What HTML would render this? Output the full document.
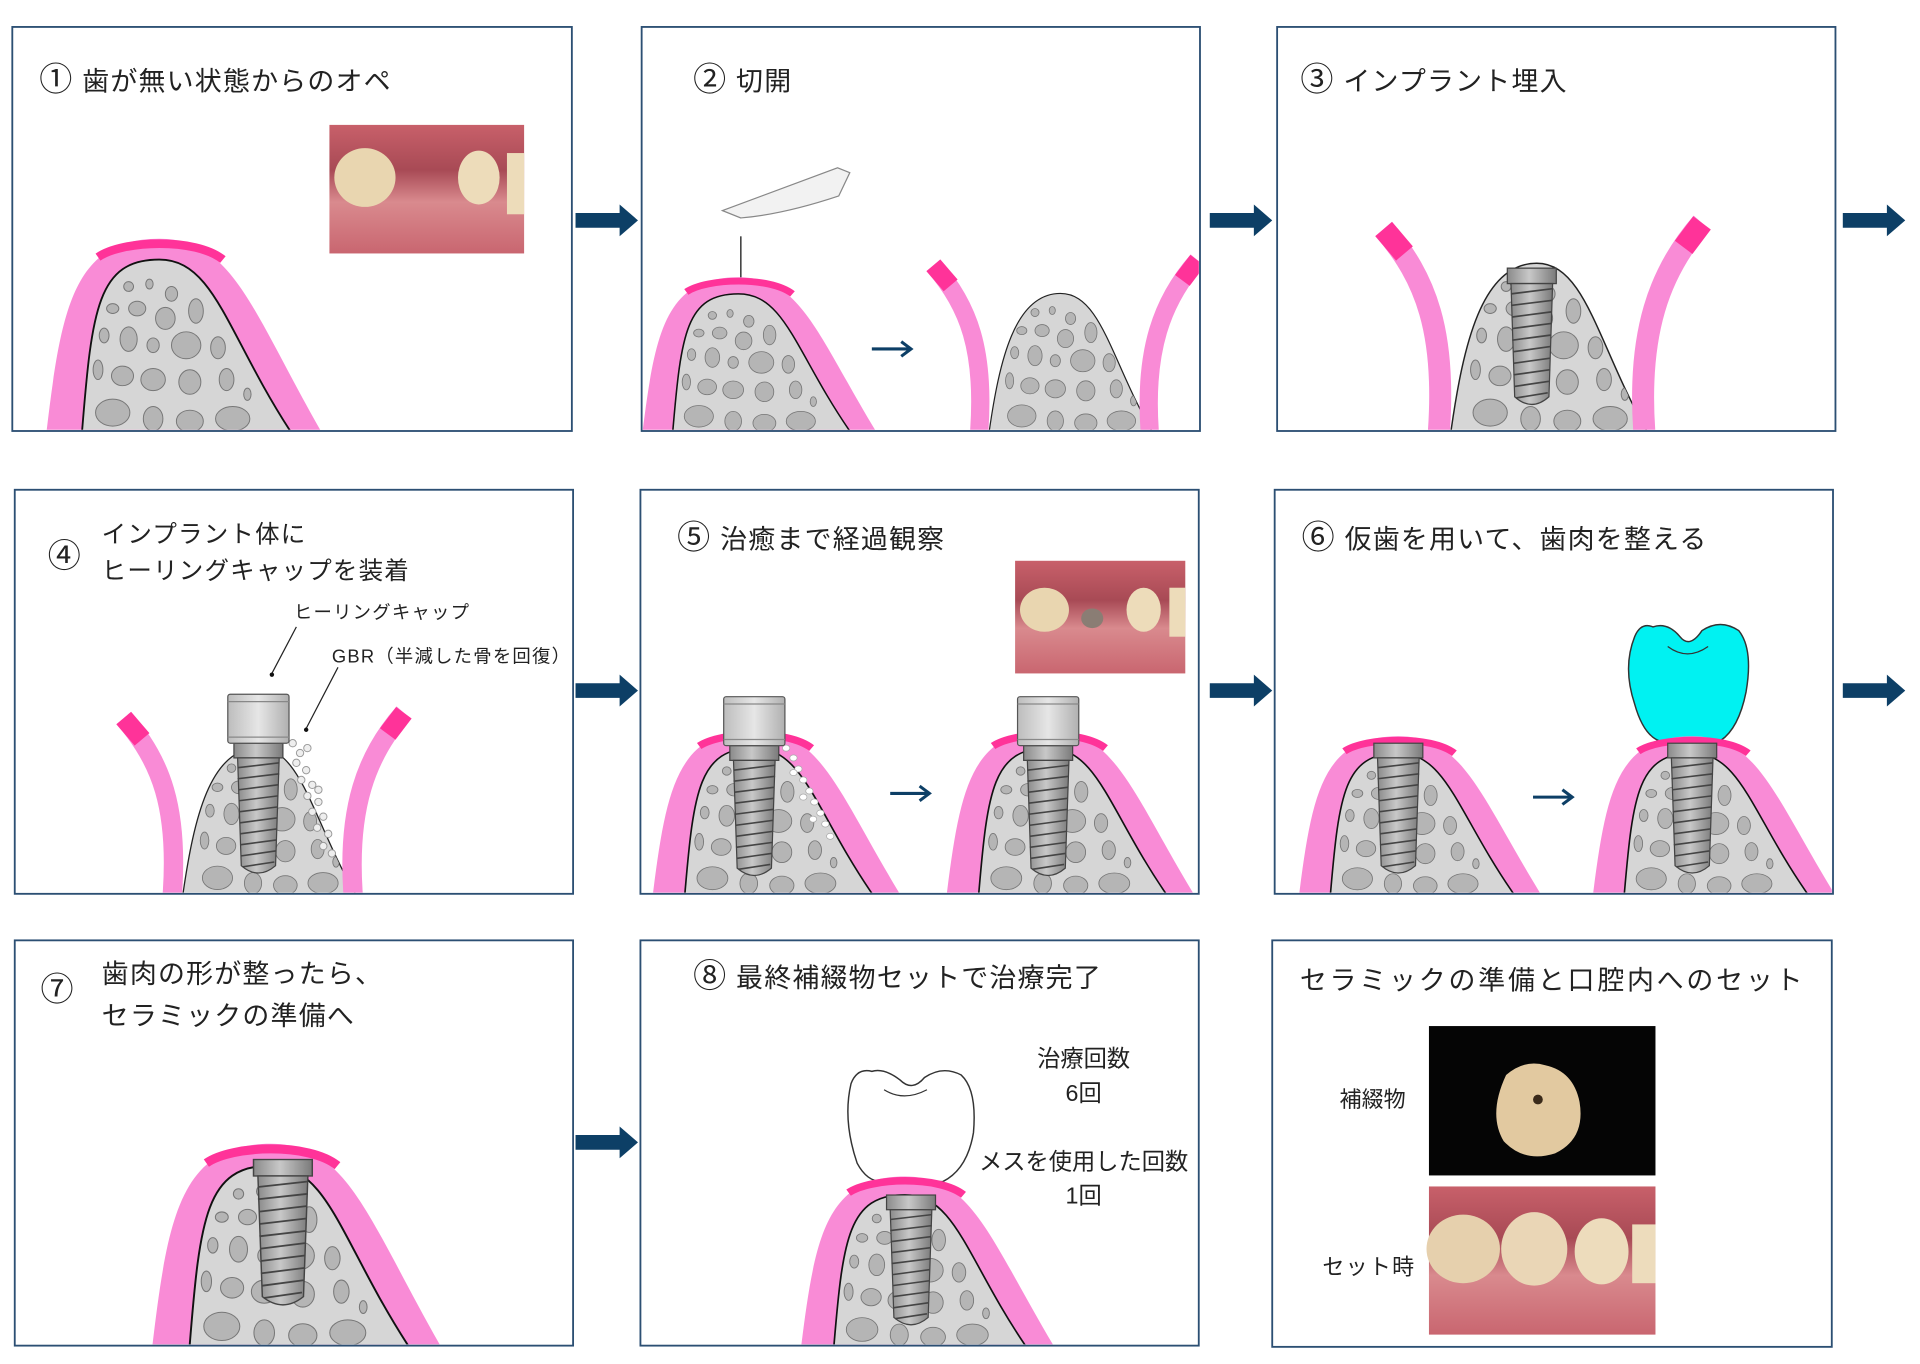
<!DOCTYPE html>
<html><head><meta charset="utf-8"><style>
html,body{margin:0;padding:0;background:#fff;}
svg{display:block;}
text{font-family:"Liberation Sans","Noto Sans CJK JP",sans-serif;fill:#222;}
.t{letter-spacing:1px;}
.c{font-size:27px;}
</style></head><body>
<svg width="1920" height="1364" viewBox="0 0 1568 1114" xmlns="http://www.w3.org/2000/svg">
<defs>
<linearGradient id="metal" x1="0" x2="1" y1="0" y2="0">
<stop offset="0" stop-color="#8a8a8a"/><stop offset="0.45" stop-color="#c8c8c8"/><stop offset="1" stop-color="#7a7a7a"/></linearGradient>
<linearGradient id="capg" x1="0" x2="1">
<stop offset="0" stop-color="#bdbdbd"/><stop offset="0.5" stop-color="#e6e6e6"/><stop offset="1" stop-color="#b0b0b0"/></linearGradient>
<clipPath id="boneClip"><path d="M-63,0 C-55,-100 -50,-140 0,-140 C45,-140 55,-80 107,0 Z"/></clipPath>
<clipPath id="boneClipO"><path d="M-70,0 C-60,-70 -45,-137 0,-137 C40,-137 50,-70 90,0 Z"/></clipPath>
<g id="spots" fill="#b5b5b5" stroke="#777" stroke-width="0.8">
<ellipse cx="-25" cy="-118" rx="4" ry="4"/><ellipse cx="-8" cy="-120" rx="3" ry="4"/><ellipse cx="10" cy="-112" rx="5" ry="6"/>
<ellipse cx="-38" cy="-100" rx="5" ry="4"/><ellipse cx="-18" cy="-100" rx="7" ry="6"/><ellipse cx="5" cy="-92" rx="8" ry="9"/><ellipse cx="30" cy="-98" rx="6" ry="10"/>
<ellipse cx="-45" cy="-78" rx="4" ry="6"/><ellipse cx="-25" cy="-75" rx="7" ry="10"/><ellipse cx="-5" cy="-70" rx="5" ry="6"/><ellipse cx="22" cy="-70" rx="12" ry="11"/><ellipse cx="48" cy="-68" rx="6" ry="9"/>
<ellipse cx="-50" cy="-50" rx="4" ry="8"/><ellipse cx="-30" cy="-45" rx="9" ry="8"/><ellipse cx="-5" cy="-42" rx="10" ry="9"/><ellipse cx="25" cy="-40" rx="9" ry="10"/><ellipse cx="55" cy="-42" rx="6" ry="9"/><ellipse cx="72" cy="-30" rx="3" ry="5"/>
<ellipse cx="-38" cy="-15" rx="14" ry="11"/><ellipse cx="-5" cy="-10" rx="8" ry="10"/><ellipse cx="25" cy="-8" rx="11" ry="9"/><ellipse cx="60" cy="-10" rx="14" ry="10"/>
</g>
<g id="ridge">
<path d="M-92,0 C-80,-100 -70,-157 0,-157 C60,-157 75,-100 132,0 Z" fill="#f98bd6"/>
<path d="M-50,-142 C-30,-156 30,-158 52,-140" fill="none" stroke="#ff3399" stroke-width="7"/>
<path d="M-63,0 C-55,-100 -50,-140 0,-140 C45,-140 55,-80 107,0 Z" fill="#d6d6d6" stroke="#111" stroke-width="1.5"/>
<g clip-path="url(#boneClip)"><use href="#spots"/></g>
</g>
<g id="oridge">
<path d="M-70,0 C-60,-70 -45,-137 0,-137 C40,-137 50,-70 90,0 Z" fill="#d6d6d6" stroke="#222" stroke-width="1.2"/>
<g clip-path="url(#boneClipO)"><use href="#spots"/></g>
<path d="M-80,2 C-74,-80 -90,-125 -125,-165" fill="none" stroke="#f98bd6" stroke-width="18"/>
<path d="M-108,-145 L-125,-165" fill="none" stroke="#ff3399" stroke-width="18"/>
<path d="M88,2 C82,-80 100,-130 135,-170" fill="none" stroke="#f98bd6" stroke-width="18"/>
<path d="M120,-150 L135,-170" fill="none" stroke="#ff3399" stroke-width="18"/>
</g>
<g id="imp">
<rect x="-20" y="0" width="40" height="12" fill="url(#metal)" stroke="#444" stroke-width="1"/>
<path d="M-17,12 L17,12 L14,100 Q0,112 -14,100 Z" fill="url(#metal)" stroke="#444" stroke-width="1"/>
<g stroke="#444" stroke-width="1.3">
<line x1="-17" y1="20" x2="17" y2="16"/><line x1="-17" y1="29" x2="17" y2="25"/><line x1="-16" y1="38" x2="16" y2="34"/><line x1="-16" y1="47" x2="16" y2="43"/><line x1="-16" y1="56" x2="16" y2="52"/><line x1="-15" y1="65" x2="15" y2="61"/><line x1="-15" y1="74" x2="15" y2="70"/><line x1="-15" y1="83" x2="15" y2="79"/><line x1="-14" y1="92" x2="14" y2="88"/><line x1="-13" y1="101" x2="13" y2="97"/>
</g>
</g>
<g id="cap">
<rect x="-25" y="-40" width="50" height="40" rx="2" fill="url(#capg)" stroke="#555" stroke-width="1"/>
<line x1="-25" y1="-34" x2="25" y2="-34" stroke="#888"/>
<path d="M-25,-5 L25,-5" stroke="#888"/>
</g>
<g id="bigarrow"><path d="M0,-6 L36,-6 L36,-13 L51,0 L36,13 L36,6 L0,6 Z" fill="#0d3f66"/></g>
<g id="smallarrow"><line x1="0" y1="0" x2="30" y2="0" stroke="#0d3f66" stroke-width="2.5"/><path d="M24,-6 L32,0 L24,6" fill="none" stroke="#0d3f66" stroke-width="2.5"/></g>
<linearGradient id="mouth" x1="0" y1="0" x2="0" y2="1"><stop offset="0" stop-color="#c8606a"/><stop offset="0.35" stop-color="#a84a55"/><stop offset="0.6" stop-color="#d98a8e"/><stop offset="1" stop-color="#c96670"/></linearGradient>
</defs>

<g fill="none" stroke="#2c4f73" stroke-width="1.5">
<rect x="10" y="22" width="457" height="330"/><rect x="524" y="22" width="456" height="330"/><rect x="1043" y="22" width="456" height="330"/>
<rect x="12" y="400" width="456" height="330"/><rect x="523" y="400" width="456" height="330"/><rect x="1041" y="400" width="456" height="330"/>
<rect x="12" y="768" width="456" height="331"/><rect x="523" y="768" width="456" height="331"/><rect x="1039" y="768" width="457" height="332"/>
</g>
<use href="#bigarrow" x="470" y="180"/><use href="#bigarrow" x="988" y="180"/><use href="#bigarrow" x="1505" y="180"/>
<use href="#bigarrow" x="470" y="564"/><use href="#bigarrow" x="988" y="564"/><use href="#bigarrow" x="1505" y="564"/>
<use href="#bigarrow" x="470" y="933"/>

<!-- Panel 1 -->
<text x="32" y="74" font-size="22" class="t"><tspan class="c">①</tspan> 歯が無い状態からのオペ</text>
<rect x="269" y="102" width="159" height="105" fill="url(#mouth)"/>
<ellipse cx="298" cy="145" rx="25" ry="24" fill="#e9d6b0"/><ellipse cx="391" cy="145" rx="17" ry="22" fill="#eddcba"/><rect x="414" y="125" width="14" height="50" fill="#eddcba"/>
<svg x="11" y="23" width="455" height="328" overflow="hidden"><use href="#ridge" x="119" y="329"/></svg>

<!-- Panel 2 -->
<text x="566" y="74" font-size="22" class="t"><tspan class="c">②</tspan>  切開</text>
<path d="M590,172 L684,137 L694,141 L685,160 Q640,175 605,178 Z" fill="#f2f2f2" stroke="#888" stroke-width="1"/>
<line x1="605" y1="193" x2="605" y2="238" stroke="#333" stroke-width="1.2"/>
<svg x="525" y="23" width="454" height="328" overflow="hidden">
<g transform="translate(78,329) scale(0.85,0.8)"><use href="#ridge"/></g>
<g transform="translate(341,329) scale(0.83,0.82)"><use href="#oridge"/></g>
</svg>
<use href="#smallarrow" x="712" y="285"/>

<!-- Panel 3 -->
<text x="1062" y="74" font-size="22" class="t"><tspan class="c">③</tspan> インプラント埋入</text>
<svg x="1044" y="23" width="454" height="328" overflow="hidden">
<g transform="translate(211,329)"><use href="#oridge"/></g>
<use href="#imp" transform="translate(207,196) scale(1,1.05)"/>
</svg>

<!-- Panel 4 -->
<text x="39" y="463" font-size="27">④</text>
<text x="83" y="443" font-size="20" class="t">インプラント体に</text>
<text x="83" y="473" font-size="20" class="t">ヒーリングキャップを装着</text>
<text x="240" y="505" font-size="15" class="t">ヒーリングキャップ</text>
<text x="271" y="541" font-size="15" class="t">GBR（半減した骨を回復）</text>
<line x1="242" y1="512" x2="222" y2="550" stroke="#222"/><circle cx="222" cy="551" r="1.8" fill="#111"/>
<line x1="276" y1="545" x2="250" y2="595" stroke="#222"/><circle cx="250" cy="596" r="1.8" fill="#111"/>
<svg x="13" y="401" width="454" height="328" overflow="hidden">
<g transform="translate(198,329) scale(0.88,0.87)"><use href="#oridge"/></g>
<g fill="#eee" stroke="#999" stroke-width="0.8">
<circle cx="226" cy="206" r="3"/><circle cx="232" cy="214" r="3"/><circle cx="229" cy="222" r="3"/><circle cx="237" cy="228" r="3"/><circle cx="233" cy="236" r="3"/><circle cx="242" cy="240" r="3"/><circle cx="238" cy="249" r="3"/><circle cx="247" cy="254" r="3"/><circle cx="242" cy="262" r="3"/><circle cx="251" cy="266" r="3"/><circle cx="246" cy="275" r="3"/><circle cx="255" cy="280" r="3"/><circle cx="251" cy="290" r="3"/><circle cx="258" cy="296" r="3"/><circle cx="238" cy="210" r="3"/><circle cx="247" cy="244" r="3"/>
</g>
<use href="#imp" x="198" y="206"/><use href="#cap" x="198" y="206"/>
</svg>

<!-- Panel 5 -->
<text x="553" y="448" font-size="22" class="t"><tspan class="c">⑤</tspan> 治癒まで経過観察</text>
<rect x="829" y="458" width="139" height="92" fill="url(#mouth)"/>
<ellipse cx="853" cy="498" rx="20" ry="18" fill="#e9d6b0"/><ellipse cx="934" cy="498" rx="14" ry="18" fill="#eddcba"/><rect x="955" y="480" width="13" height="40" fill="#eddcba"/>
<ellipse cx="892" cy="505" rx="9" ry="8" fill="#8a7d74"/>
<svg x="524" y="401" width="454" height="328" overflow="hidden">
<g transform="translate(92,329) scale(0.9,0.85)"><use href="#ridge"/></g>
<g fill="#fff" stroke="#aaa" stroke-width="0.6">
<ellipse cx="118" cy="210" rx="3" ry="2.5"/><ellipse cx="124" cy="218" rx="3" ry="2.5"/><ellipse cx="128" cy="227" rx="3" ry="2.5"/><ellipse cx="132" cy="236" rx="3" ry="2.5"/><ellipse cx="137" cy="245" rx="3" ry="2.5"/><ellipse cx="141" cy="254" rx="3" ry="2.5"/><ellipse cx="146" cy="263" rx="3" ry="2.5"/><ellipse cx="150" cy="272" rx="3" ry="2.5"/><ellipse cx="154" cy="282" rx="3" ry="2.5"/><ellipse cx="124" cy="230" rx="3" ry="2.5"/><ellipse cx="132" cy="250" rx="3" ry="2.5"/><ellipse cx="140" cy="268" rx="3" ry="2.5"/>
</g>
<use href="#imp" x="92" y="208"/><use href="#cap" x="92" y="208"/>
<g transform="translate(332,329) scale(0.9,0.85)"><use href="#ridge"/></g>
<use href="#imp" x="332" y="208"/><use href="#cap" x="332" y="208"/>
</svg>
<use href="#smallarrow" x="727" y="648"/>

<!-- Panel 6 -->
<text x="1063" y="448" font-size="22" class="t"><tspan class="c">⑥</tspan> 仮歯を用いて、歯肉を整える</text>
<path d="M1350,512 Q1340,508 1335,520 Q1325,545 1335,575 Q1342,600 1355,605 L1405,605 Q1420,595 1426,565 Q1432,530 1420,515 Q1405,505 1390,515 Q1380,530 1372,520 Q1362,508 1350,512 Z" fill="#00f2f2" stroke="#333" stroke-width="1.2"/>
<path d="M1362,528 Q1378,540 1395,528" fill="none" stroke="#333"/>
<svg x="1042" y="401" width="454" height="328" overflow="hidden">
<g transform="translate(100,329) scale(0.88,0.82)"><use href="#ridge"/></g>
<use href="#imp" x="100" y="206"/>
<g transform="translate(340,329) scale(0.88,0.82)"><use href="#ridge"/></g>
<use href="#imp" x="340" y="206"/>
</svg>
<use href="#smallarrow" x="1252" y="651"/>

<!-- Panel 7 -->
<text x="33" y="817" font-size="27">⑦</text>
<text x="83" y="803" font-size="22" class="t">歯肉の形が整ったら、</text>
<text x="83" y="837" font-size="22" class="t">セラミックの準備へ</text>
<svg x="13" y="769" width="454" height="329" overflow="hidden">
<g transform="translate(208,330) scale(1.05,1.05)"><use href="#ridge"/></g>
<use href="#imp" transform="translate(218,178) scale(1.2,1.12)"/>
</svg>

<!-- Panel 8 -->
<text x="566" y="806" font-size="22" class="t"><tspan class="c">⑧</tspan> 最終補綴物セットで治療完了</text>
<path d="M712,875 Q700,872 695,885 Q688,915 700,950 Q708,965 720,965 L770,965 Q790,955 795,925 Q798,890 785,878 Q770,870 755,880 Q745,892 735,882 Q722,872 712,875 Z" fill="#fff" stroke="#333" stroke-width="1.2"/>
<path d="M722,890 Q738,900 757,890" fill="none" stroke="#333"/>
<svg x="524" y="769" width="454" height="329" overflow="hidden">
<g transform="translate(215,330) scale(0.92,0.88)"><use href="#ridge"/></g>
<use href="#imp" x="220" y="207"/>
</svg>
<text x="885" y="871" font-size="19" text-anchor="middle">治療回数</text>
<text x="885" y="899" font-size="19" text-anchor="middle">6回</text>
<text x="885" y="955" font-size="19" text-anchor="middle">メスを使用した回数</text>
<text x="885" y="983" font-size="19" text-anchor="middle">1回</text>

<!-- Panel 9 -->
<text x="1268" y="808" font-size="22" text-anchor="middle" letter-spacing="2.3">セラミックの準備と口腔内へのセット</text>
<text x="1094" y="904" font-size="18">補綴物</text>
<rect x="1167" y="838" width="185" height="122" fill="#050505"/>
<path d="M1230,878 Q1245,865 1262,870 Q1285,875 1290,900 Q1295,930 1270,942 Q1245,950 1228,932 Q1215,910 1230,878 Z" fill="#e2c9a0"/>
<circle cx="1256" cy="898" r="4" fill="#3a2a1a"/>
<text x="1080" y="1041" font-size="18" letter-spacing="1">セット時</text>
<rect x="1167" y="969" width="185" height="121" fill="url(#mouth)"/>
<ellipse cx="1195" cy="1020" rx="30" ry="28" fill="#e6d0ad"/><ellipse cx="1253" cy="1020" rx="27" ry="30" fill="#ead6b6"/><ellipse cx="1308" cy="1022" rx="22" ry="27" fill="#eddcbc"/><rect x="1333" y="1000" width="19" height="48" fill="#eddcbc"/>
</svg>
</body></html>
